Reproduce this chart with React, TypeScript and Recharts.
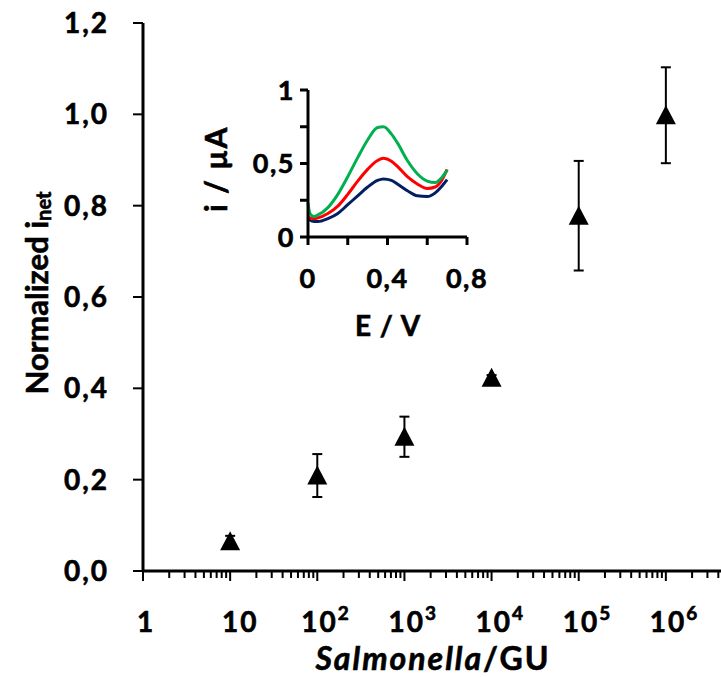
import React from 'react';
import { ScatterChart, Scatter, XAxis, YAxis, ErrorBar, LineChart, Line, Label } from 'recharts';

const FONT = 'Lato, "Open Sans", sans-serif';

// Main chart data
const cellCounts = [10, 100, 1000, 10000, 100000, 1000000];
const normalizedCurrent = [0.065, 0.209, 0.294, 0.423, 0.778, 0.998];
const currentError = [0.012, 0.047, 0.044, 0.006, 0.12, 0.105];

const decades = [1, 10, 100, 1000, 10000, 100000, 1000000, 10000000];
const minorMultipliers = [2, 3, 4, 5, 6, 7, 8, 9];
const yTicks = [0, 0.2, 0.4, 0.6, 0.8, 1.0, 1.2];

// Inset data (DPV curves)
const potential = [0, 0.01, 0.03, 0.05, 0.1, 0.15, 0.2, 0.25, 0.3, 0.35, 0.38, 0.42, 0.45, 0.5, 0.55, 0.6, 0.64, 0.67, 0.7];
const greenCurrent = [0.23, 0.16, 0.14, 0.15, 0.2, 0.29, 0.41, 0.54, 0.66, 0.745, 0.75, 0.7, 0.64, 0.52, 0.43, 0.38, 0.37, 0.4, 0.455];
const redCurrent = [0.14, 0.13, 0.125, 0.13, 0.16, 0.21, 0.29, 0.38, 0.46, 0.52, 0.535, 0.515, 0.48, 0.41, 0.36, 0.33, 0.34, 0.38, 0.46];
const navyCurrent = [0.13, 0.115, 0.105, 0.105, 0.125, 0.16, 0.22, 0.28, 0.34, 0.385, 0.395, 0.385, 0.36, 0.315, 0.28, 0.275, 0.3, 0.34, 0.39];
const insetXTicks = [0, 0.2, 0.4, 0.6, 0.8];
const insetXLabels = [0, 0.4, 0.8];
const insetYTicks = [0, 0.25, 0.5, 0.75, 1];
const insetYLabels = [0, 0.5, 1];

const mainData = cellCounts.map((x, i) => ({ x, y: normalizedCurrent[i], err: currentError[i] }));
const xTicks = decades.flatMap((d, i) => (i < decades.length - 1 ? [d, ...minorMultipliers.map((m) => m * d)] : [d]));
const insetData = potential.map((e, i) => ({ e, green: greenCurrent[i], red: redCurrent[i], navy: navyCurrent[i] }));

const commaFmt = (v: number, digits: number) => v.toFixed(digits).replace('.', ',');

const textStyle = { fontFamily: FONT, fontWeight: 700, fill: '#000', stroke: '#000', strokeWidth: 0.6 } as const;

const XTick = (props: any) => {
  const { x, y, payload } = props;
  const v = payload.value;
  const idx = decades.indexOf(v);
  const major = idx >= 0;
  let label: any = null;
  if (major && idx <= 6) {
    if (idx === 0) {
      label = (
        <text x={x + 3} y={y + 61} textAnchor="middle" fontSize={28} letterSpacing={2} {...textStyle}>1</text>
      );
    } else if (idx === 1) {
      label = (
        <text x={x + 10} y={y + 61} textAnchor="middle" fontSize={28} letterSpacing={2} {...textStyle}>10</text>
      );
    } else {
      label = (
        <text x={x - 16} y={y + 61} textAnchor="start" fontSize={28} letterSpacing={2} {...textStyle}>
          10<tspan dy={-12} fontSize={19}>{idx}</tspan>
        </text>
      );
    }
  }
  return (
    <g>
      <line x1={x} y1={y} x2={x} y2={y + (major ? 10 : 7)} stroke="#000" strokeWidth={2} />
      {label}
    </g>
  );
};

const MainYTitle = () => {
  const cx = 36;
  const cy = 293;
  return (
    <text x={cx} y={cy} transform={`rotate(-90, ${cx}, ${cy})`} textAnchor="middle" dominantBaseline="central" fontSize={31} {...textStyle}>
      Normalized i<tspan dy={7} fontSize={20}>net</tspan>
    </text>
  );
};

const MainXTitle = () => (
  <text x={433} y={670} textAnchor="middle" fontSize={32} letterSpacing={2} {...textStyle}>
    <tspan fontStyle="italic">Salmonella</tspan>/GU
  </text>
);

// inset coordinates are local to the inset svg (offset 190, 60)
const InsetXTitle = () => (
  <text x={198} y={276} textAnchor="middle" fontSize={28} letterSpacing={1} {...textStyle}>
    E / V
  </text>
);

const InsetYTitle = () => {
  const cx = 25;
  const cy = 109;
  return (
    <text x={cx} y={cy} transform={`rotate(-90, ${cx}, ${cy})`} textAnchor="middle" dominantBaseline="central" fontSize={30} letterSpacing={1.5} {...textStyle}>
      i / µA
    </text>
  );
};

const Triangle = (props: any) => {
  const { cx, cy } = props;
  if (cx == null || cy == null) return null;
  return <polygon points={`${cx},${cy - 10} ${cx - 10},${cy + 9} ${cx + 10},${cy + 9}`} fill="#000" />;
};

export default function App() {
  return (
    <div style={{ position: 'absolute', left: 0, top: 0, width: 721, height: 677, overflow: 'hidden', background: '#fff' }}>
      <div style={{ position: 'absolute', left: 0, top: 0 }}>
        <ScatterChart width={780} height={677} margin={{ top: 23, right: 27, bottom: 6, left: 43 }}>
          <XAxis
            dataKey="x"
            type="number"
            scale="log"
            domain={[1, 10000000]}
            ticks={xTicks}
            interval={0}
            allowDataOverflow
            height={100}
            tickSize={0}
            tickMargin={0}
            tickLine={false}
            axisLine={{ stroke: '#000', strokeWidth: 3 }}
            tick={<XTick />}
          >
            <Label content={<MainXTitle />} />
          </XAxis>
          <YAxis
            dataKey="y"
            type="number"
            domain={[0, 1.2]}
            ticks={yTicks}
            interval={0}
            width={100}
            tickSize={10}
            tickMargin={24}
            tickFormatter={(v: number) => commaFmt(v, 1)}
            tick={{ fontSize: 28, letterSpacing: 2, ...textStyle }}
            tickLine={{ stroke: '#000', strokeWidth: 2 }}
            axisLine={{ stroke: '#000', strokeWidth: 3 }}
          >
            <Label content={<MainYTitle />} />
          </YAxis>
          <Scatter data={mainData} shape={<Triangle />} isAnimationActive={false}>
            <ErrorBar dataKey="err" direction="y" width={5} stroke="#000" strokeWidth={2} isAnimationActive={false} />
          </Scatter>
        </ScatterChart>
      </div>
      <div style={{ position: 'absolute', left: 190, top: 60 }}>
        <LineChart width={330} height={300} data={insetData} margin={{ top: 30, right: 53, bottom: 23, left: 68 }}>
          <XAxis
            dataKey="e"
            type="number"
            domain={[0, 0.8]}
            ticks={insetXTicks}
            interval={0}
            height={100}
            tickSize={8}
            tickMargin={24}
            tickFormatter={(v: number) => (insetXLabels.includes(v) ? (v === 0 ? '0' : commaFmt(v, 1)) : '')}
            tick={{ fontSize: 27, letterSpacing: 1.5, ...textStyle }}
            tickLine={{ stroke: '#000', strokeWidth: 3 }}
            axisLine={{ stroke: '#000', strokeWidth: 3 }}
          >
            <Label content={<InsetXTitle />} />
          </XAxis>
          <YAxis
            type="number"
            domain={[0, 1]}
            ticks={insetYTicks}
            interval={0}
            width={50}
            tickSize={8}
            tickMargin={5}
            tickFormatter={(v: number) => (insetYLabels.includes(v) ? (v === 0 || v === 1 ? String(v) : commaFmt(v, 1)) : '')}
            tick={{ fontSize: 27, letterSpacing: 1.5, ...textStyle }}
            tickLine={{ stroke: '#000', strokeWidth: 3 }}
            axisLine={{ stroke: '#000', strokeWidth: 3 }}
          >
            <Label content={<InsetYTitle />} />
          </YAxis>
          <Line dataKey="navy" type="monotone" stroke="#002060" strokeWidth={3} dot={false} isAnimationActive={false} />
          <Line dataKey="red" type="monotone" stroke="#FF0000" strokeWidth={3} dot={false} isAnimationActive={false} />
          <Line dataKey="green" type="monotone" stroke="#00B050" strokeWidth={3} dot={false} isAnimationActive={false} />
        </LineChart>
      </div>
    </div>
  );
}
